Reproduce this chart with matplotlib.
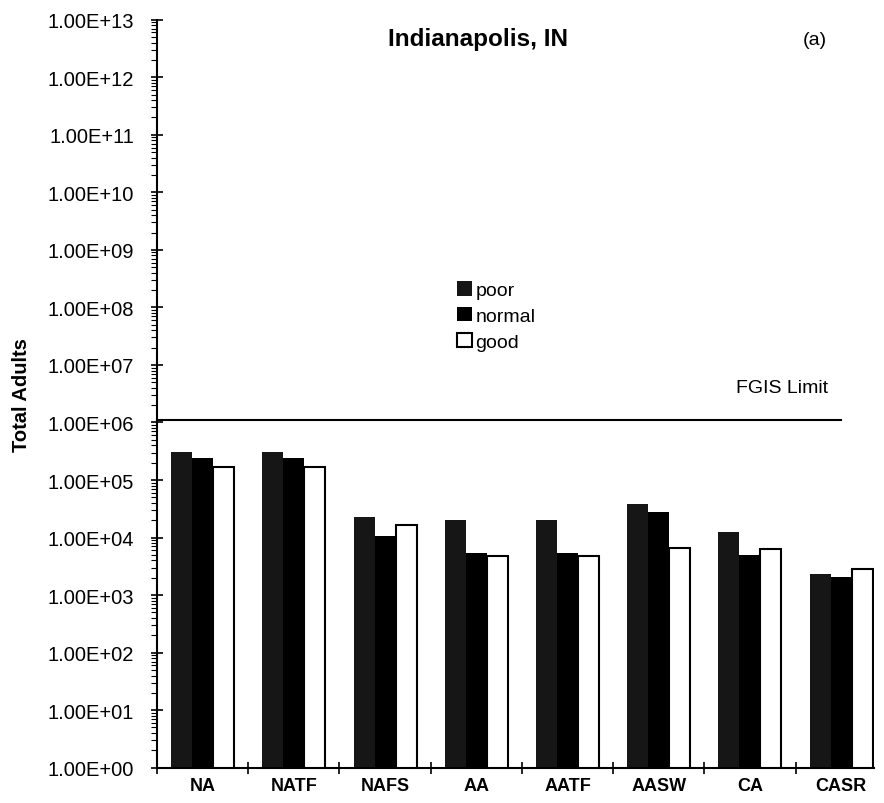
import numpy as np
import matplotlib
matplotlib.use("Agg")
from matplotlib import pyplot as plt
from matplotlib.ticker import FixedLocator, FuncFormatter, LogLocator, NullFormatter

plt.rcParams['font.family'] = ['Liberation Sans', 'DejaVu Sans']

# datos
categorias = ['NA', 'NATF', 'NAFS', 'AA', 'AATF', 'AASW', 'CA', 'CASR']
poor = [3.1e5, 3.1e5, 2.3e4, 2.0e4, 2.0e4, 3.9e4, 1.26e4, 2.3e3]
normal = [2.4e5, 2.4e5, 1.05e4, 5.3e3, 5.3e3, 2.75e4, 5.0e3, 2.1e3]
good = [1.7e5, 1.7e5, 1.67e4, 4.7e3, 4.7e3, 6.6e3, 6.3e3, 2.85e3]
fgis_limite = 1.1e6

W, H = 884, 804
fig = plt.figure(figsize=(W / 100, H / 100), dpi=100)
izq, der, arr, aba = 157, 874, 20.7, 768.7
ax = fig.add_axes([izq / W, 1 - aba / H, (der - izq) / W, (aba - arr) / H])

x = np.arange(len(categorias))
ancho = 0.23
ax.bar(x - ancho, poor, ancho, color='#161616', label='poor')
ax.bar(x, normal, ancho, color='black', label='normal')
ax.bar(x + ancho, good, ancho, color='white', edgecolor='black', linewidth=1.5, label='good')

ax.set_yscale('log')
ax.set_ylim(1, 1e13)
ax.set_xlim(-0.5, 7.36)

ax.yaxis.set_major_locator(FixedLocator([10.0 ** k for k in range(14)]))
ax.yaxis.set_major_formatter(FuncFormatter(lambda v, p: f'{v:.2E}'))
ax.yaxis.set_minor_locator(LogLocator(base=10, subs=np.arange(2, 10), numticks=100))
ax.yaxis.set_minor_formatter(NullFormatter())
ax.tick_params(axis='y', which='major', direction='inout', length=9, width=1.2, labelsize=14.5, pad=12)
ax.tick_params(axis='y', which='minor', direction='out', length=4, width=0.8)

ax.set_xticks(np.arange(len(categorias)) - 0.5)
ax.set_xticklabels([])
ax.set_xticks(x, minor=True)
ax.set_xticklabels(categorias, minor=True, fontweight='bold', fontsize=13)
ax.tick_params(axis='x', which='major', direction='inout', length=9, width=1.2)
ax.tick_params(axis='x', which='minor', length=0, pad=7)

for s in ['top', 'right']:
    ax.spines[s].set_visible(False)
ax.spines['left'].set_linewidth(1.5)
ax.spines['bottom'].set_linewidth(1.5)

# linea limite FGIS
ax.plot([-0.5, 7.0], [fgis_limite, fgis_limite], color='black', linewidth=1.5, clip_on=False)
ax.text(6.86, 2.9e6, 'FGIS Limit', ha='right', va='bottom', fontsize=14)

ax.text(0.448, 0.99, 'Indianapolis, IN', transform=ax.transAxes, ha='center', va='top',
        fontsize=17.5, fontweight='bold')
ax.text(0.918, 0.985, '(a)', transform=ax.transAxes, ha='center', va='top', fontsize=14)

ax.set_ylabel('Total Adults', fontweight='bold', fontsize=14.5, labelpad=12)

ax.legend(loc='upper left', bbox_to_anchor=(0.405, 0.663), frameon=False, fontsize=14,
          handlelength=0.75, handleheight=0.75, handletextpad=0.2, labelspacing=0.4, borderpad=0)

fig.savefig('out.png', dpi=100)
